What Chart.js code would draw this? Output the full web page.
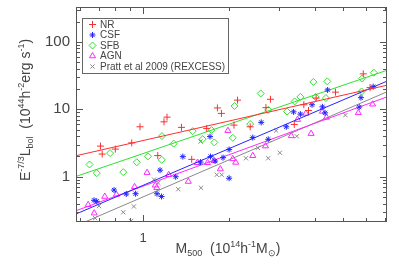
<!DOCTYPE html>
<html>
<head>
<meta charset="utf-8">
<script src="https://cdn.jsdelivr.net/npm/chart.js@4.4.1/dist/chart.umd.min.js"></script>
<style>
  html, body { margin: 0; padding: 0; background: #fff; }
  #wrap { width: 399px; height: 266px; }
</style>
</head>
<body>
<div id="wrap"><canvas id="chart"></canvas></div>
<script>
// values (M500 in 1e14 h^-1 Msun, L in 1e44 h^-2 erg/s)
const nrMass = [0.71, 0.72, 0.80, 0.913, 0.976, 1.126, 1.184, 1.213, 1.363, 1.48, 1.67, 1.82, 1.88, 2.08, 2.14, 2.37, 2.69, 2.79, 3.38, 3.65, 3.79, 4.03, 4.71, 5.89, 6.22];
const nrLum = [2.85, 2.17, 2.57, 3.18, 5.51, 2.06, 6.53, 7.66, 5.40, 1.81, 5.21, 10.5, 8.7, 5.83, 13.7, 5.51, 10.6, 14.1, 5.97, 11.7, 9.6, 14.7, 18.0, 33.6, 21.0];

const csfMass = [0.674, 0.689, 0.792, 0.874, 0.942, 1.119, 1.161, 1.147, 1.301, 1.378, 1.589, 1.722, 1.786, 1.905, 2.00, 2.00, 2.42, 2.59, 2.74, 3.17, 3.36, 3.55, 3.90, 4.24, 4.33, 4.42, 5.78, 6.38, 1.715, 5.70];
const csfLum = [0.447, 0.432, 0.635, 0.554, 0.560, 0.560, 0.509, 1.25, 1.00, 1.99, 1.65, 1.99, 1.71, 1.92, 2.53, 0.95, 3.81, 6.40, 3.59, 5.51, 9.18, 8.49, 11.7, 10.9, 8.87, 19.4, 14.9, 21.7, 3.94, 10.8];

const sfbMass = [0.65, 0.689, 0.767, 0.853, 0.951, 1.041, 1.165, 1.163, 1.28, 1.492, 1.617, 1.736, 1.775, 2.06, 2.09, 2.37, 2.58, 2.74, 3.19, 3.39, 3.55, 3.94, 4.41, 4.01, 4.36, 5.84, 6.41, 5.81];
const sfbLum = [1.52, 1.13, 2.24, 1.17, 1.64, 2.01, 4.01, 1.78, 3.10, 4.75, 3.62, 4.92, 3.23, 3.78, 11.2, 6.04, 17.2, 9.83, 9.25, 13.1, 15.3, 25.5, 26.0, 15.3, 14.7, 28.7, 35.0, 18.4];

const agnMass = [0.643, 0.675, 0.735, 0.807, 0.934, 1.033, 1.104, 1.117, 1.23, 1.44, 1.548, 1.681, 1.771, 1.863, 2.06, 2.11, 2.42, 2.68, 1.98, 3.30, 3.47, 3.71, 3.87, 4.24, 4.38, 5.66, 6.35];
const agnLum = [0.384, 0.288, 0.509, 0.545, 0.708, 1.15, 0.748, 0.687, 1.07, 0.849, 1.61, 1.61, 1.73, 1.30, 1.84, 1.63, 2.05, 2.85, 4.83, 4.04, 7.04, 8.70, 4.36, 9.31, 7.59, 8.87, 11.9];

const prattMass = [0.68, 0.702, 0.853, 0.909, 0.929, 1.093, 1.131, 1.328, 1.595, 1.589, 1.81, 1.884, 2.29, 2.52, 2.74, 3.01, 3.45, 5.10, 2.92];
const prattLum = [0.243, 0.368, 0.297, 0.221, 0.362, 0.909, 0.812, 0.653, 0.685, 3.32, 1.07, 1.07, 1.88, 2.68, 1.88, 2.27, 3.98, 8.20, 4.83];

// best-fit lines, value at each end of the mass axis
const fitMass = [0.583, 7.13];
const nrFit = [2.05, 22.8];
const sfbFit = [1.01, 38];
const csfFit = [0.28, 26.2];
const agnFit = [0.313, 15.3];
const prattFit = [0.187, 18.2];

const xRange = [0.583, 7.13];
const yRange = [0.213, 330];
const xMajor = [1];
const xMinor = [0.6, 0.7, 0.8, 0.9, 2, 3, 4, 5, 6, 7];
const yMajor = [1, 10, 100];
const yMinor = [0.3, 0.4, 0.5, 0.6, 0.7, 0.8, 0.9, 2, 3, 4, 5, 6, 7, 8, 9, 20, 30, 40, 50, 60, 70, 80, 90, 200, 300];

const FONT = '"Liberation Sans", Arial, Helvetica, sans-serif';
const TEXT = '#444';

const series = [
  { label: 'NR', mass: nrMass, lum: nrLum, fit: nrFit, color: '#ff2e2e', style: 'cross', r: 3.5 },
  { label: 'CSF', mass: csfMass, lum: csfLum, fit: csfFit, color: '#2424ff', style: 'star', r: 3 },
  { label: 'SFB', mass: sfbMass, lum: sfbLum, fit: sfbFit, color: '#30e030', style: 'rectRot', r: 3.5 },
  { label: 'AGN', mass: agnMass, lum: agnLum, fit: agnFit, color: '#ff28ff', style: 'triangle', r: 3.5 },
  { label: 'Pratt et al 2009 (REXCESS)', mass: prattMass, lum: prattLum, fit: prattFit, color: '#8a8a8a', style: 'crossRot', r: 3 }
];

const datasets = [];
series.forEach(s => {
  datasets.push({
    label: s.label + ' fit',
    data: fitMass.map((m, i) => ({ x: m, y: s.fit[i] })),
    showLine: true,
    borderColor: s.color,
    borderWidth: 1,
    pointRadius: 0
  });
  datasets.push({
    label: s.label,
    data: s.mass.map((m, i) => ({ x: m, y: s.lum[i] })),
    showLine: false,
    pointStyle: s.style,
    pointRadius: s.r,
    borderColor: s.color,
    backgroundColor: 'transparent',
    pointBorderWidth: 1
  });
});

function drawRich(ctx, parts, x, y, size) {
  const big = size + 'px ' + FONT;
  const small = Math.round(size * 0.64) + 'px ' + FONT;
  let w = 0;
  parts.forEach(([t, s]) => { ctx.font = s ? small : big; w += ctx.measureText(t).width; });
  let cx = x - w / 2;
  parts.forEach(([t, s]) => {
    ctx.font = s ? small : big;
    const dy = s > 0 ? -size * 0.42 : (s < 0 ? size * 0.22 : 0);
    ctx.fillText(t, cx, y + dy);
    cx += ctx.measureText(t).width;
  });
}

const decor = {
  id: 'decor',
  afterDraw(chart) {
    const { ctx, chartArea: a, scales: { x, y } } = chart;
    ctx.save();
    ctx.strokeStyle = '#555';
    ctx.lineWidth = 1;
    ctx.strokeRect(a.left + 0.5, a.top + 0.5, a.right - a.left - 1, a.bottom - a.top - 1);
    ctx.beginPath();
    xMinor.concat(xMajor).forEach(v => {
      const len = xMajor.includes(v) ? 7 : 4;
      const px = Math.round(x.getPixelForValue(v)) + 0.5;
      if (px < a.left + 1 || px > a.right - 1) return;
      ctx.moveTo(px, a.bottom); ctx.lineTo(px, a.bottom - len);
      ctx.moveTo(px, a.top); ctx.lineTo(px, a.top + len);
    });
    yMinor.concat(yMajor).forEach(v => {
      const len = yMajor.includes(v) ? 7 : 4;
      const py = Math.round(y.getPixelForValue(v)) + 0.5;
      if (py < a.top + 1 || py > a.bottom - 1) return;
      ctx.moveTo(a.left, py); ctx.lineTo(a.left + len, py);
      ctx.moveTo(a.right, py); ctx.lineTo(a.right - len, py);
    });
    ctx.stroke();

    // legend box
    const lx = 82, ly = 18, lw = 146, lh = 55;
    ctx.fillStyle = '#fff';
    ctx.fillRect(lx, ly, lw, lh);
    ctx.strokeStyle = '#666';
    ctx.strokeRect(lx + 0.5, ly + 0.5, lw, lh);
    ctx.font = '10px ' + FONT;
    ctx.textBaseline = 'middle';
    series.forEach((s, i) => {
      const ey = 24.5 + i * 10.5;
      ctx.strokeStyle = s.color;
      ctx.fillStyle = 'transparent';
      ctx.lineWidth = 1;
      Chart.helpers.drawPoint(ctx, { pointStyle: s.style, radius: s.r, borderWidth: 1, rotation: 0 }, 92.5, ey);
      ctx.fillStyle = TEXT;
      ctx.fillText(s.label, 100, ey + 0.5);
    });

    // axis titles
    ctx.textBaseline = 'alphabetic';
    ctx.fillStyle = TEXT;
    drawRich(ctx, [['M', 0], ['500', -1], ['  (10', 0], ['14', 1], ['h', 0], ['-1', 1], ['M', 0], ['\u2299', -1], [')', 0]], 228, 253, 14);
    ctx.translate(30, 110);
    ctx.rotate(-Math.PI / 2);
    drawRich(ctx, [['E', 0], ['-7/3', 1], ['L', 0], ['bol', -1], ['  (10', 0], ['44', 1], ['h', 0], ['-2', 1], ['erg s', 0], ['-1', 1], [')', 0]], 0, 0, 14);
    ctx.restore();
  }
};

new Chart(document.getElementById('chart'), {
  type: 'scatter',
  data: { datasets },
  plugins: [decor],
  options: {
    responsive: true,
    maintainAspectRatio: false,
    animation: false,
    events: [],
    layout: { padding: { top: 7, right: 12, left: 0, bottom: 0 } },
    plugins: { legend: { display: false }, tooltip: { enabled: false } },
    scales: {
      x: {
        type: 'logarithmic',
        min: xRange[0],
        max: xRange[1],
        afterFit: scale => { scale.height = 44; scale.paddingLeft = 0; scale.paddingRight = 0; },
        afterBuildTicks: scale => { scale.ticks = xMajor.map(v => ({ value: v })); },
        grid: { display: false, drawTicks: false },
        border: { display: false },
        ticks: { autoSkip: false, maxRotation: 0, padding: 9, color: TEXT, font: { family: FONT, size: 13 }, callback: v => String(v) }
      },
      y: {
        type: 'logarithmic',
        min: yRange[0],
        max: yRange[1],
        afterFit: scale => { scale.width = 76; scale.paddingTop = 0; scale.paddingBottom = 0; },
        afterBuildTicks: scale => { scale.ticks = yMajor.map(v => ({ value: v })); },
        grid: { display: false, drawTicks: false },
        border: { display: false },
        ticks: { autoSkip: false, padding: 6, color: TEXT, font: { family: FONT, size: 15 }, callback: v => String(v) }
      }
    }
  }
});
</script>
</body>
</html>
